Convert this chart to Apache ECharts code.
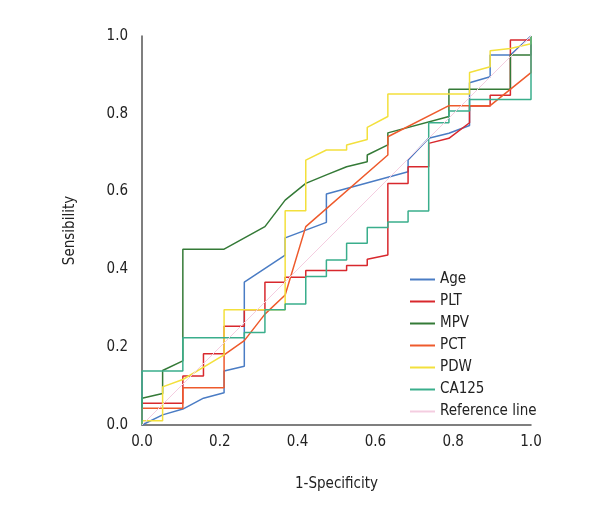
<!DOCTYPE html>
<html>
<head>
<meta charset="utf-8">
<script src="https://cdn.jsdelivr.net/npm/echarts@6/dist/echarts.min.js"></script>
<style>
html,body{margin:0;padding:0;background:#fff;}
#chart{width:600px;height:520px;}
</style>
</head>
<body>
<div id="chart"></div>
<script>
var seriesNames = ['Age', 'PLT', 'MPV', 'PCT', 'PDW', 'CA125', 'Reference line'];
var xTicks = ['0.0', '0.2', '0.4', '0.6', '0.8', '1.0'];
var yTicks = ['0.0', '0.2', '0.4', '0.6', '0.8', '1.0'];

var ageData = [[0,0],[0.053,0.026],[0.105,0.041],[0.158,0.069],[0.211,0.083],[0.211,0.139],[0.263,0.151],[0.263,0.367],[0.368,0.437],[0.368,0.481],[0.474,0.521],[0.474,0.594],[0.684,0.651],[0.684,0.681],[0.737,0.737],[0.789,0.750],[0.842,0.770],[0.842,0.880],[0.895,0.895],[0.895,0.951],[0.947,0.951],[1,1]];
var pltData = [[0,0],[0,0.056],[0.105,0.056],[0.105,0.126],[0.158,0.126],[0.158,0.183],[0.211,0.183],[0.211,0.254],[0.263,0.254],[0.263,0.296],[0.316,0.296],[0.316,0.367],[0.368,0.367],[0.368,0.380],[0.421,0.380],[0.421,0.397],[0.526,0.397],[0.526,0.410],[0.579,0.410],[0.579,0.426],[0.632,0.437],[0.632,0.621],[0.684,0.621],[0.684,0.664],[0.737,0.664],[0.737,0.724],[0.789,0.737],[0.842,0.777],[0.842,0.820],[0.895,0.820],[0.895,0.848],[0.947,0.848],[0.947,0.990],[1,0.990],[1,1]];
var mpvData = [[0,0],[0,0.069],[0.053,0.081],[0.053,0.140],[0.105,0.165],[0.105,0.452],[0.211,0.452],[0.316,0.510],[0.368,0.578],[0.421,0.621],[0.474,0.643],[0.526,0.664],[0.579,0.677],[0.579,0.694],[0.632,0.720],[0.632,0.751],[0.789,0.793],[0.789,0.863],[0.947,0.863],[0.947,0.951],[1,0.951],[1,1]];
var pctData = [[0,0],[0,0.043],[0.105,0.043],[0.105,0.096],[0.211,0.096],[0.211,0.180],[0.263,0.217],[0.316,0.285],[0.368,0.334],[0.421,0.510],[0.632,0.694],[0.632,0.741],[0.789,0.821],[0.895,0.821],[1,0.906],[1,1]];
var pdwData = [[0,0],[0,0.011],[0.053,0.011],[0.053,0.098],[0.105,0.117],[0.211,0.180],[0.211,0.296],[0.368,0.296],[0.368,0.551],[0.421,0.551],[0.421,0.681],[0.474,0.707],[0.526,0.707],[0.526,0.720],[0.579,0.734],[0.579,0.765],[0.632,0.793],[0.632,0.851],[0.842,0.851],[0.842,0.906],[0.895,0.921],[0.895,0.962],[0.947,0.968],[1,0.980],[1,1]];
var ca125Data = [[0,0],[0,0.139],[0.105,0.139],[0.105,0.224],[0.263,0.224],[0.263,0.238],[0.316,0.238],[0.316,0.296],[0.368,0.296],[0.368,0.311],[0.421,0.311],[0.421,0.382],[0.474,0.382],[0.474,0.424],[0.526,0.424],[0.526,0.467],[0.579,0.467],[0.579,0.508],[0.632,0.508],[0.632,0.522],[0.684,0.522],[0.684,0.550],[0.737,0.550],[0.737,0.777],[0.789,0.777],[0.789,0.807],[0.842,0.807],[0.842,0.837],[1,0.837],[1,1]];
var refData = [[0,0],[1,1]];

var colors = ['#4a7cc4', '#d8282d', '#347a37', '#ee5a2c', '#f3e03c', '#3aae8c', '#f4cde0'];
var allData = [ageData, pltData, mpvData, pctData, pdwData, ca125Data, refData];

var FONT = "'Liberation Sans Narrow', 'DejaVu Sans Condensed', 'Roboto', sans-serif";

var chart = echarts.init(document.getElementById('chart'), null, {renderer: 'canvas'});
var series = seriesNames.map(function (name, i) {
  return {
    name: name,
    type: 'line',
    data: allData[i],
    showSymbol: false,
    symbol: 'none',
    smooth: false,
    lineStyle: {color: colors[i], width: i === 6 ? 1 : 1.5},
    itemStyle: {color: colors[i]},
    animation: false,
    z: i === 6 ? 10 : 2
  };
});

chart.setOption({
  backgroundColor: '#ffffff',
  animation: false,
  grid: {left: 142, right: 69, top: 36, bottom: 95, containLabel: false},
  legend: {
    orient: 'vertical',
    left: 405,
    top: 267,
    itemWidth: 25,
    itemHeight: 2,
    itemGap: 7,
    icon: 'rect',
    textStyle: {fontFamily: FONT, fontSize: 15, color: '#222', padding: [0, 0, 0, 0]},
    data: seriesNames
  },
  xAxis: {
    type: 'value', min: 0, max: 1, interval: 0.2,
    name: '1-Specificity', nameLocation: 'middle', nameGap: 52,
    nameTextStyle: {fontFamily: FONT, fontSize: 15, color: '#222'},
    axisLine: {show: true, lineStyle: {color: '#555', width: 1.5}},
    axisTick: {show: false},
    splitLine: {show: false},
    axisLabel: {fontFamily: FONT, fontSize: 15, color: '#222', margin: 10,
      formatter: function (v) { return xTicks[Math.round(v / 0.2)]; }}
  },
  yAxis: {
    type: 'value', min: 0, max: 1, interval: 0.2,
    name: 'Sensibility', nameLocation: 'middle', nameGap: 64,
    nameTextStyle: {fontFamily: FONT, fontSize: 15, color: '#222'},
    axisLine: {show: true, lineStyle: {color: '#555', width: 1.5}},
    axisTick: {show: false},
    splitLine: {show: false},
    axisLabel: {fontFamily: FONT, fontSize: 15, color: '#222', margin: 14,
      formatter: function (v) { return yTicks[Math.round(v / 0.2)]; }}
  },
  series: series
});
</script>
</body>
</html>
